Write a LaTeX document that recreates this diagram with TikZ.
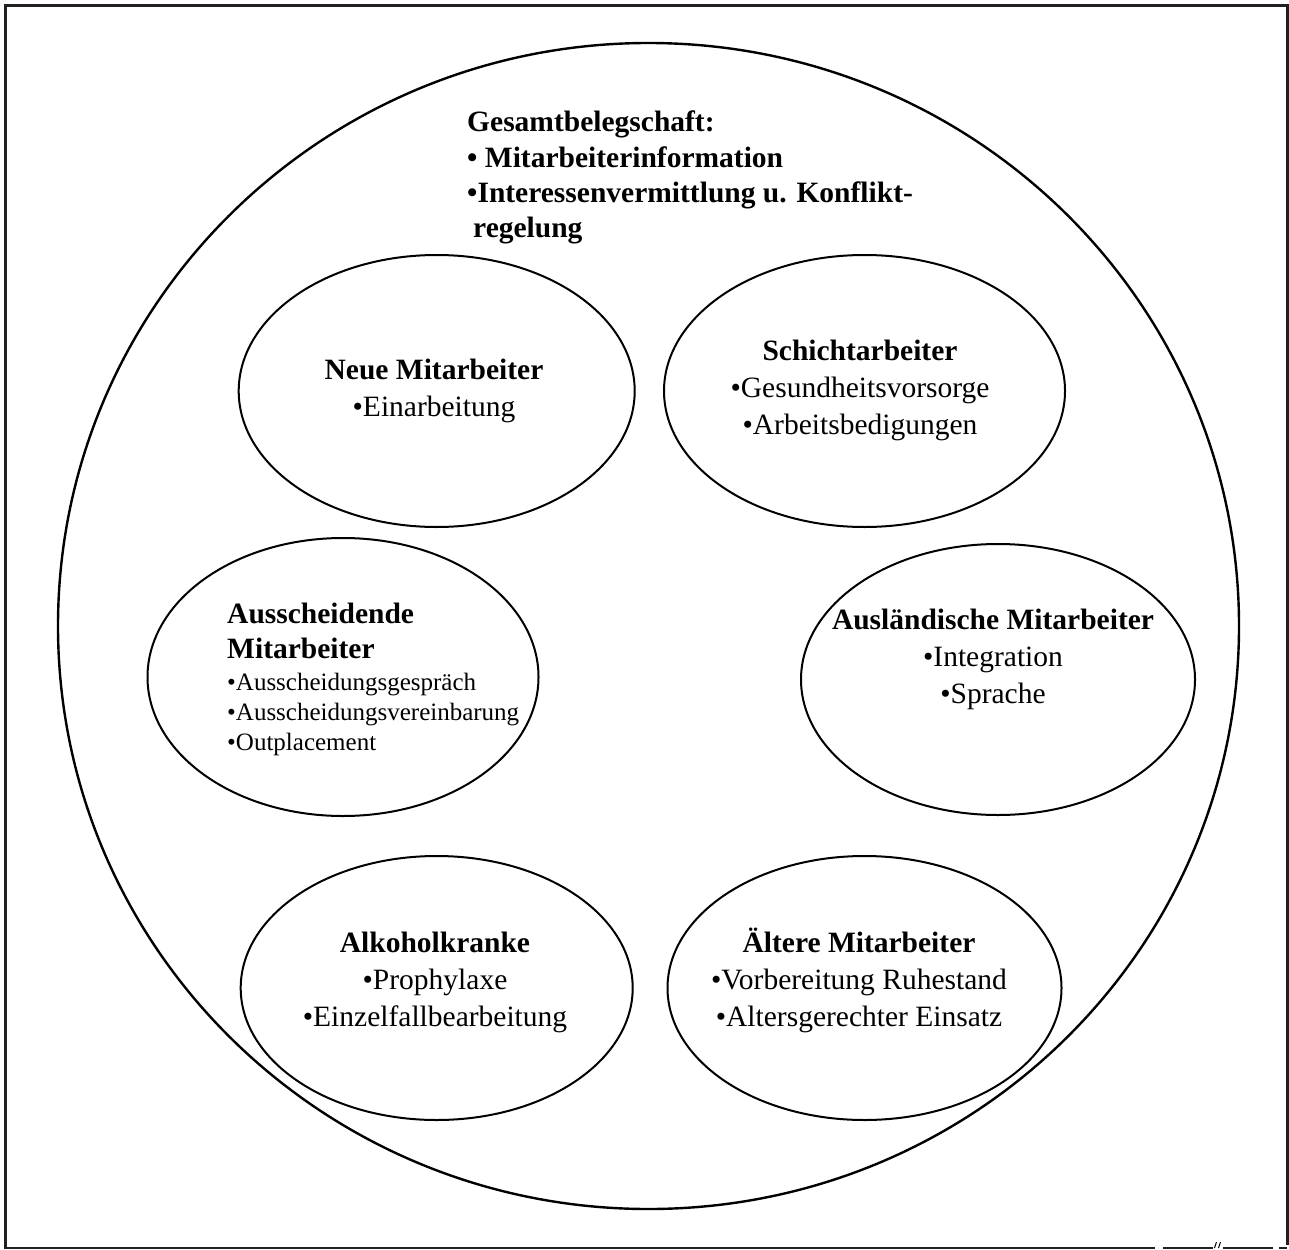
\documentclass[tikz,border=0pt]{standalone}
\usepackage{fontspec}
\setmainfont{Liberation Serif}
\usetikzlibrary{shapes.geometric}
\definecolor{framegray}{HTML}{231F20}
\begin{document}
\begin{tikzpicture}[x=1pt,y=-1pt,
  frameline/.style={draw=framegray,line width=3pt},
  edgeline/.style={draw=framegray,line width=1.6pt},
  outer/.style={ellipse,draw=black,line width=2.4pt,inner sep=0pt},
  group/.style={ellipse,draw=black,line width=2pt,inner sep=0pt,
                minimum width=396pt,minimum height=272pt},
  bigtext/.style={font=\fontsize{29.5}{37}\selectfont},
  boldtext/.style={font=\fontsize{29.5}{35}\selectfont\bfseries,align=left,anchor=base west,inner sep=0pt},
  centred/.style={bigtext,align=center,anchor=base,inner sep=0pt},
  smalltext/.style={font=\fontsize{25}{30}\selectfont,align=left,anchor=base west,inner sep=0pt},
]
\useasboundingbox (0,0) rectangle (1289,1249);

% outer frame (anchor "base" of a multi-line node sits on its last line)
\draw[frameline] (5.5,1249) -- (5.5,5.5) -- (1287,5.5) -- (1287,1245);
\draw[edgeline] (5.5,1248) -- (1155,1248);
\draw[edgeline] (1163,1248) -- (1213,1248);
\draw[edgeline] (1223,1248) -- (1273,1248);
\draw[edgeline] (1279,1248) -- (1287,1248);
\draw[line width=1pt] (1214.5,1248) -- (1216.5,1242);
\draw[line width=1pt] (1218.5,1248) -- (1220.5,1242);

% whole workforce
\node[outer,minimum width=1181pt,minimum height=1166pt] (all) at (648.5,626) {};
\node[boldtext] (gesamt) at (467,237)
  {Gesamtbelegschaft:\\• Mitarbeiterinformation\\•Interessenvermittlung u. Konflikt-\\\hspace{6pt}regelung};

% target groups
\node[group] (neue) at (436.7,391) {};
\node[group,minimum width=401pt] (schicht) at (864.5,391) {};
\node[group,minimum width=391pt,minimum height=278pt] (aussch) at (343,677) {};
\node[group,minimum width=394pt,minimum height=271pt] (ausl) at (998,679.5) {};
\node[group,minimum width=392pt,minimum height=264pt] (alkohol) at (436.7,988) {};
\node[group,minimum width=394pt,minimum height=264pt] (aelter) at (864.5,988) {};

\node[centred] (neuetext) at (434,416) {\textbf{Neue Mitarbeiter}\\•Einarbeitung};
\node[centred] (schichttext) at (860,434)
  {\textbf{Schichtarbeiter}\\•Gesundheitsvorsorge\\•Arbeitsbedigungen};
\node[boldtext] (ausschhead) at (227,658) {Ausscheidende\\Mitarbeiter};
\node[smalltext] (ausschlist) at (227,750)
  {•Ausscheidungsgespräch\\•Ausscheidungsvereinbarung\\•Outplacement};
\node[centred] (ausltext) at (993,703)
  {\textbf{Ausländische Mitarbeiter}\\•Integration\\•Sprache};
\node[centred] (alkoholtext) at (435,1026)
  {\textbf{Alkoholkranke}\\•Prophylaxe\\•Einzelfallbearbeitung};
\node[centred] (aeltertext) at (859,1026)
  {\textbf{Ältere Mitarbeiter}\\•Vorbereitung Ruhestand\\•Altersgerechter Einsatz};
\end{tikzpicture}
\end{document}
